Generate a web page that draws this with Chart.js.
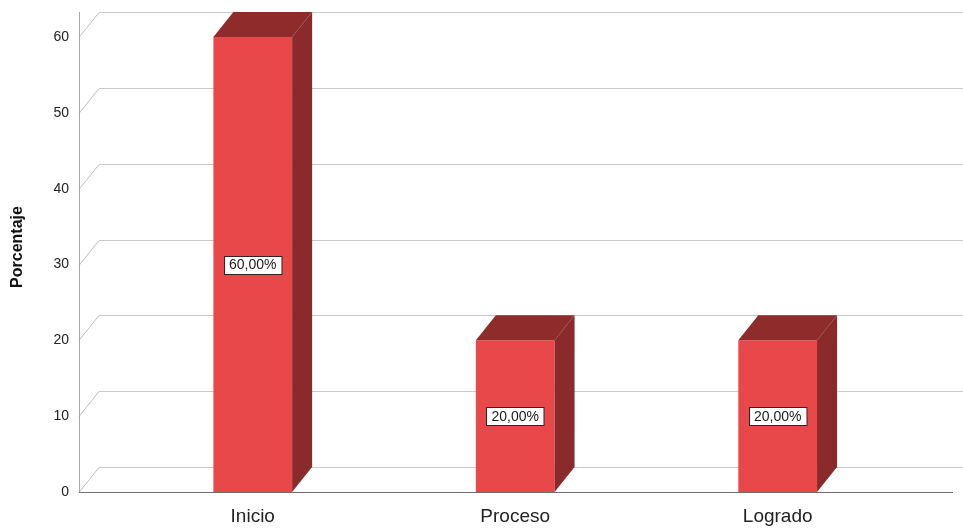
<!DOCTYPE html>
<html lang="es">
<head>
    <meta charset="UTF-8">
    <title>Porcentaje</title>
    <script src="https://cdn.jsdelivr.net/npm/chart.js"></script>
    <style>
        html, body { margin: 0; padding: 0; background: #ffffff; }
        #wrap { width: 963px; height: 529px; position: relative; }
    </style>
</head>
<body>
    <div id="wrap"><canvas id="grafico"></canvas></div>

    <script>
        // Datos del gráfico
        const categorias = ["Inicio", "Proceso", "Logrado"];
        const porcentajes = [60, 20, 20];
        const ticksY = [0, 10, 20, 30, 40, 50, 60];
        const tituloY = "Porcentaje";

        // Profundidad del efecto 3D (px)
        const prof = { dx: 20, dy: -25 };

        const fuente = "'Liberation Sans', Arial, sans-serif";

        // Paredes, rejilla y ejes al estilo SPSS
        const pared3d = {
            id: "pared3d",
            beforeDatasetsDraw(chart) {
                const { ctx, chartArea, scales } = chart;
                const y = scales.y;
                ctx.save();
                ctx.lineWidth = 1;
                ticksY.forEach(v => {
                    const py = Math.round(y.getPixelForValue(v)) + 0.5;
                    ctx.strokeStyle = "#c9c9c9";
                    ctx.beginPath();
                    ctx.moveTo(chartArea.left + prof.dx, py + prof.dy);
                    ctx.lineTo(chart.width, py + prof.dy);
                    ctx.stroke();
                    ctx.strokeStyle = "#bdbdbd";
                    ctx.beginPath();
                    ctx.moveTo(chartArea.left, py);
                    ctx.lineTo(chartArea.left + prof.dx, py + prof.dy);
                    ctx.stroke();
                });
                // eje vertical
                const x0 = Math.round(chartArea.left) + 0.5;
                ctx.strokeStyle = "#a8a8a8";
                ctx.beginPath();
                ctx.moveTo(x0, chartArea.bottom);
                ctx.lineTo(x0, chartArea.top + prof.dy);
                ctx.stroke();
                // eje horizontal
                const yb = Math.round(chartArea.bottom) + 0.5;
                ctx.strokeStyle = "#6e6e6e";
                ctx.beginPath();
                ctx.moveTo(chartArea.left, yb);
                ctx.lineTo(chartArea.right, yb);
                ctx.stroke();
                ctx.restore();
            },
            afterDatasetsDraw(chart) {
                const { ctx, chartArea } = chart;
                const meta = chart.getDatasetMeta(0);
                ctx.save();
                meta.data.forEach((bar, i) => {
                    const x0 = bar.x - bar.width / 2;
                    const x1 = bar.x + bar.width / 2;
                    const top = bar.y;
                    const base = bar.base;
                    // cara superior
                    ctx.fillStyle = "#8e2b2b";
                    ctx.beginPath();
                    ctx.moveTo(x0, top);
                    ctx.lineTo(x0 + prof.dx, top + prof.dy);
                    ctx.lineTo(x1 + prof.dx, top + prof.dy);
                    ctx.lineTo(x1, top);
                    ctx.closePath();
                    ctx.fill();
                    // cara lateral
                    ctx.fillStyle = "#8a2a2a";
                    ctx.beginPath();
                    ctx.moveTo(x1, top);
                    ctx.lineTo(x1 + prof.dx, top + prof.dy);
                    ctx.lineTo(x1 + prof.dx, base + prof.dy);
                    ctx.lineTo(x1, base);
                    ctx.closePath();
                    ctx.fill();

                    // etiqueta del valor
                    const txt = porcentajes[i].toFixed(2).replace(".", ",") + "%";
                    ctx.font = "14px " + fuente;
                    const w = ctx.measureText(txt).width + 10;
                    const h = 18;
                    const cy = (top + base) / 2;
                    const bx = Math.round(bar.x - w / 2) + 0.5;
                    const by = Math.round(cy - h / 2) + 0.5;
                    ctx.fillStyle = "#ffffff";
                    ctx.fillRect(bx, by, w, h);
                    ctx.strokeStyle = "#3a2020";
                    ctx.lineWidth = 1;
                    ctx.strokeRect(bx, by, w, h);
                    ctx.fillStyle = "#1a1a1a";
                    ctx.textAlign = "center";
                    ctx.textBaseline = "middle";
                    ctx.fillText(txt, bar.x, cy + 1);
                });

                // título del eje Y, centrado sobre el eje con profundidad
                ctx.translate(18, (chartArea.top + prof.dy + chartArea.bottom) / 2 - 5);
                ctx.rotate(-Math.PI / 2);
                ctx.font = "bold 16px " + fuente;
                ctx.fillStyle = "#111111";
                ctx.textAlign = "center";
                ctx.textBaseline = "middle";
                ctx.fillText(tituloY, 0, 0);
                ctx.restore();
            }
        };

        const ctx = document.getElementById("grafico").getContext("2d");
        const grafico = new Chart(ctx, {
            type: "bar",
            data: {
                datasets: [{
                    label: tituloY,
                    data: porcentajes.map((v, i) => ({ x: i, y: v })),
                    backgroundColor: "#e9484b",
                    borderWidth: 0,
                    barPercentage: 0.3,
                    categoryPercentage: 1
                }]
            },
            options: {
                responsive: true,
                maintainAspectRatio: false,
                animation: false,
                layout: { padding: { top: 37, right: 10, left: 0, bottom: 0 } },
                plugins: {
                    legend: { display: false },
                    tooltip: { enabled: false }
                },
                scales: {
                    x: {
                        type: "linear",
                        offset: false,
                        min: -0.662,
                        max: 2.668,
                        grid: { display: false, drawTicks: false },
                        border: { display: false },
                        afterBuildTicks: (axis) => {
                            axis.ticks = categorias.map((_, i) => ({ value: i }));
                        },
                        afterFit: (scale) => { scale.height = 37; },
                        ticks: {
                            padding: 13,
                            color: "#222222",
                            font: { family: fuente, size: 19 },
                            callback: (v) => categorias[v]
                        }
                    },
                    y: {
                        min: 0,
                        max: 60,
                        grid: { display: false, drawTicks: false },
                        border: { display: false },
                        afterBuildTicks: (axis) => {
                            axis.ticks = ticksY.map(v => ({ value: v }));
                        },
                        afterFit: (scale) => { scale.width = 79; },
                        ticks: {
                            padding: 10,
                            color: "#222222",
                            font: { family: fuente, size: 14 }
                        }
                    }
                }
            },
            plugins: [pared3d]
        });
    </script>
</body>
</html>
